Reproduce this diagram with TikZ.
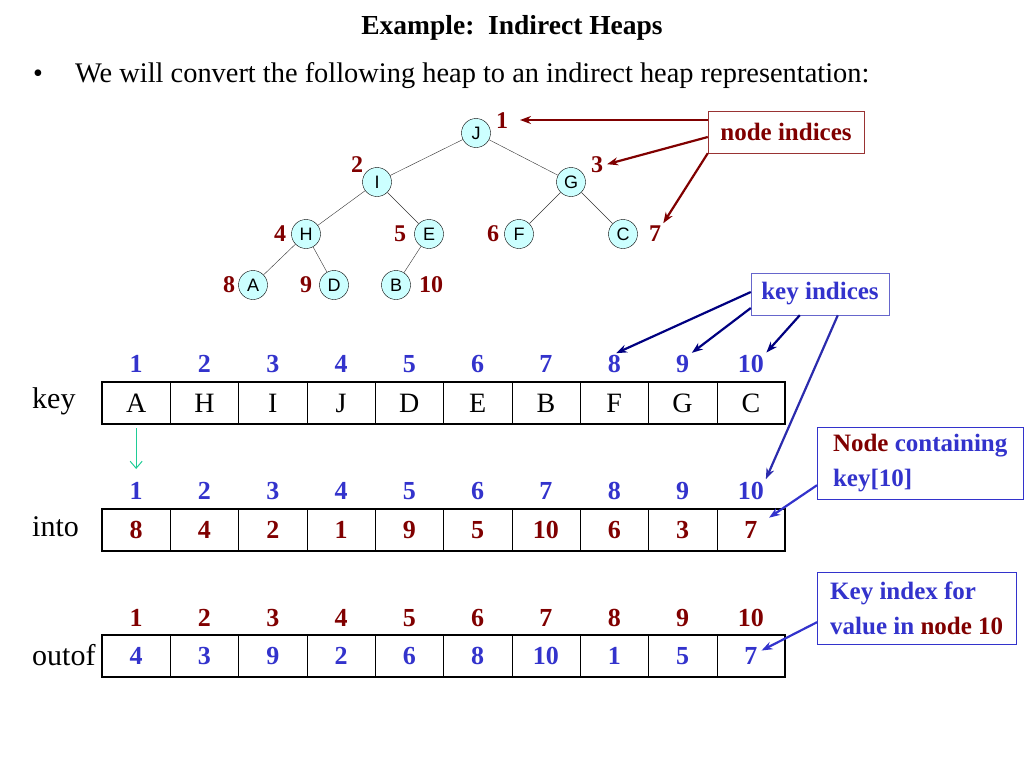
\documentclass[tikz,border=0pt]{standalone}
\usepackage{fontspec}
\setmainfont{Liberation Serif}
\newfontfamily\arialfont{Liberation Sans}
\usetikzlibrary{arrows.meta, positioning}
\definecolor{idxred}{HTML}{800000}
\definecolor{idxblue}{HTML}{3333CC}
\definecolor{navyline}{HTML}{000080}
\definecolor{heapfill}{HTML}{CCFFFF}
\definecolor{greenline}{HTML}{1FCC96}
\definecolor{redbox}{HTML}{993333}
\definecolor{bluebox}{HTML}{6666CC}

\tikzset{
  heapnode/.style={circle, draw, thin, fill=heapfill, minimum size=29pt, inner sep=0pt,
    font=\arialfont\fontsize{18}{18}\selectfont},
  heaplbl/.style={text=idxred, inner sep=1pt, font=\bfseries\fontsize{24}{24}\selectfont},
  idxnum/.style={inner sep=1pt, font=\bfseries\fontsize{26}{26}\selectfont},
  cell/.style={draw, thin, fill=white, minimum width=68.3pt, minimum height=42pt,
    inner sep=0pt, outer sep=0pt},
  rowlbl/.style={anchor=west, inner sep=0pt, font=\fontsize{30}{30}\selectfont},
  notebox/.style={draw, thin, fill=white, inner sep=6pt, font=\bfseries\fontsize{25}{25}\selectfont},
  sidenote/.style={notebox, draw=idxblue, text=idxblue, anchor=north west, align=left,
    minimum height=72pt, font=\bfseries\fontsize{25}{35}\selectfont},
  pointer/.style={-{Stealth[length=11pt, width=8pt]}, line width=2.2pt}
}

\begin{document}
\begin{tikzpicture}[x=1pt, y=-1pt]
    \useasboundingbox (0,0) rectangle (1024,768);

    % title and bullet
    \node[font=\bfseries\fontsize{27.5}{28}\selectfont] (title) at (512,28) {Example:\ \ Indirect Heaps};
    \node[font=\fontsize{28}{28}\selectfont] (bullet) at (38,76) {\textbullet};
    \node[anchor=west, inner sep=0pt, font=\fontsize{28.4}{28}\selectfont] (intro) at (75,76)
      {We will convert the following heap to an indirect heap representation:};

    % the heap
    \node[heapnode] (J) at (476,133) {J};
    \node[heapnode] (I) at (377,182) {I};
    \node[heapnode] (G) at (571,182) {G};
    \node[heapnode] (H) at (306,234) {H};
    \node[heapnode] (E) at (429,234) {E};
    \node[heapnode] (F) at (519,234) {F};
    \node[heapnode] (C) at (623,234) {C};
    \node[heapnode] (A) at (253,285) {A};
    \node[heapnode] (D) at (334,285) {D};
    \node[heapnode] (B) at (396,285) {B};
    \draw[thin, gray!40!black] (J) -- (I) (J) -- (G) (I) -- (H) (I) -- (E)
      (G) -- (F) (G) -- (C) (H) -- (A) (H) -- (D) (E) -- (B);

    \node[heaplbl] (lbl1) at (502,121) {1};
    \node[heaplbl] (lbl2) at (357,165) {2};
    \node[heaplbl] (lbl3) at (597,165) {3};
    \node[heaplbl] (lbl4) at (280,234) {4};
    \node[heaplbl] (lbl5) at (400,234) {5};
    \node[heaplbl] (lbl6) at (493,234) {6};
    \node[heaplbl] (lbl7) at (655,234) {7};
    \node[heaplbl] (lbl8) at (229,285) {8};
    \node[heaplbl] (lbl9) at (306,285) {9};
    \node[heaplbl] (lbl10) at (431,285) {10};

    % node indices note
    \node[notebox, draw=redbox, text=idxred, minimum width=156pt, minimum height=42pt] (nbox) at (786,132) {node indices};
    \coordinate (n1end) at (520,120);
    \draw[pointer, idxred] ([yshift=12pt]nbox.west) -- (n1end);
    \draw[pointer, idxred, shorten >=3pt] ([yshift=-5pt]nbox.west) -- (lbl3.east);
    \draw[pointer, idxred, shorten >=2pt] (nbox.south west) -- (lbl7.north east);

    % the three arrays
    \foreach \v [count=\i] in {A,H,I,J,D,E,B,F,G,C} {
      \node[cell, font=\fontsize{28}{28}\selectfont] (key\i) at ({102+68.3*(\i-0.5)},403) {\v};
      \node[idxnum, text=idxblue] (keyidx\i) at ({102+68.3*(\i-0.5)},364) {\i};
    }
    \foreach \v [count=\i] in {8,4,2,1,9,5,10,6,3,7} {
      \node[cell, text=idxred, font=\bfseries\fontsize{26}{26}\selectfont] (into\i) at ({102+68.3*(\i-0.5)},530) {\v};
      \node[idxnum, text=idxblue] (intoidx\i) at ({102+68.3*(\i-0.5)},491) {\i};
    }
    \foreach \v [count=\i] in {4,3,9,2,6,8,10,1,5,7} {
      \node[cell, text=idxblue, font=\bfseries\fontsize{26}{26}\selectfont] (outof\i) at ({102+68.3*(\i-0.5)},656) {\v};
      \node[idxnum, text=idxred] (outofidx\i) at ({102+68.3*(\i-0.5)},618) {\i};
    }
    \draw[line width=2.5pt] (key1.north west) rectangle (key10.south east);
    \draw[line width=2.5pt] (into1.north west) rectangle (into10.south east);
    \draw[line width=2.5pt] (outof1.north west) rectangle (outof10.south east);

    \node[rowlbl] (keylbl) at (32,401) {key};
    \node[rowlbl] (intolbl) at (32,527) {into};
    \node[rowlbl] (outoflbl) at (32,655) {outof};

    \draw[-{Straight Barb[length=7pt, width=12pt]}, greenline, line width=1pt] (key1.south) ++(0,4) -- ++(0,41);

    % key indices note
    \node[notebox, draw=bluebox, text=idxblue, minimum width=138pt, minimum height=42pt] (kbox) at (820,294) {key indices};
    \draw[pointer, navyline, shorten >=2pt] ([yshift=2pt]kbox.west) -- (keyidx8.north);
    \draw[pointer, navyline, shorten >=2pt] ([yshift=-14pt]kbox.west) -- (keyidx9.north east);
    \draw[pointer, navyline, shorten >=2pt] ([xshift=49pt]kbox.south west) -- (keyidx10.north east);
    \draw[pointer, idxblue!85!black, shorten >=2pt] ([xshift=87pt]kbox.south west) -- (intoidx10.north east);

    % side notes
    \node[sidenote, minimum width=206pt] (cbox) at (817,427)
      {\textcolor{idxred}{Node} containing\\key[10]};
    \draw[pointer, idxblue, shorten >=22pt] ([yshift=-22pt]cbox.west) -- (into10.center);
    \node[sidenote, minimum width=199pt] (vbox) at (817,572)
      {Key index for\\value in \textcolor{idxred}{node 10}};
    \draw[pointer, idxblue, shorten >=12pt] ([yshift=-14pt]vbox.west) -- (outof10.center);
  \end{tikzpicture}
\end{document}
